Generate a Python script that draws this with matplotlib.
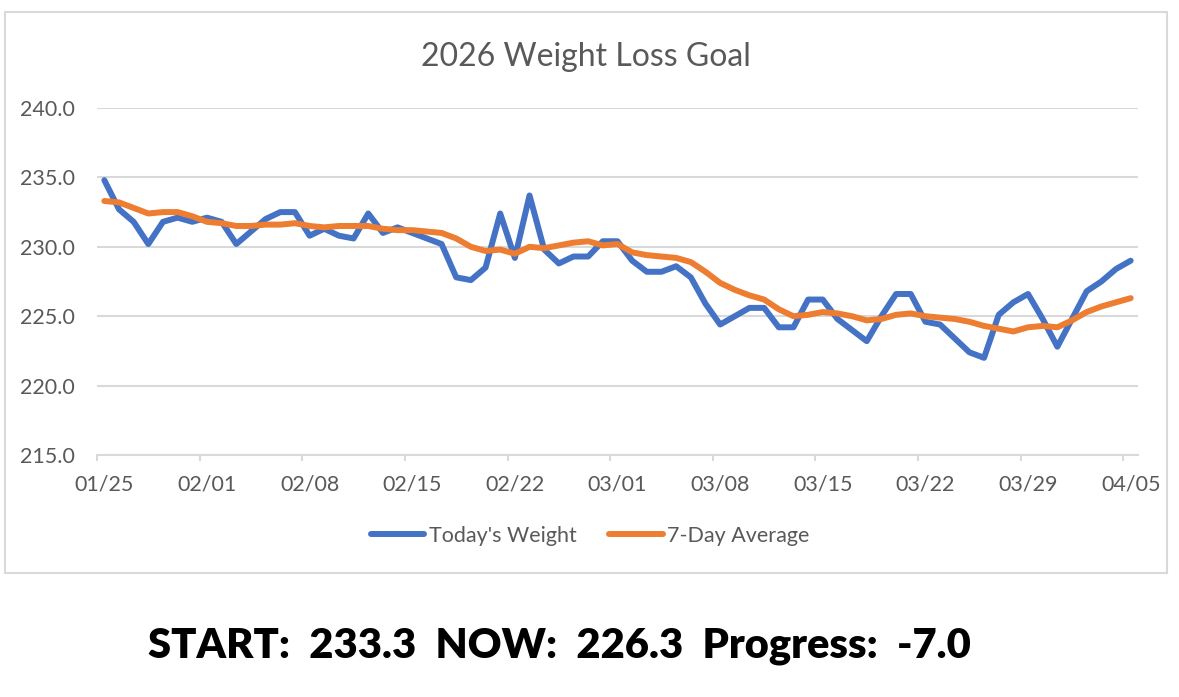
import numpy as np
import pandas as pd
import matplotlib
matplotlib.use("Agg")
import matplotlib.pyplot as plt
from matplotlib.patches import Rectangle
from matplotlib.ticker import FixedLocator, FuncFormatter

##------------------------------##
##            DATA              ##
##------------------------------##
dates = pd.date_range("2026-01-25", "2026-04-05", freq="D")
day_labels = [d.strftime("%m/%d") for d in dates]

todays_weight = [
    234.8, 232.7, 231.8, 230.2, 231.8, 232.1, 231.8, 232.1, 231.8, 230.2,
    231.1, 232.0, 232.5, 232.5, 230.8, 231.3, 230.8, 230.6, 232.4, 231.0,
    231.4, 231.0, 230.6, 230.2, 227.8, 227.6, 228.5, 232.4, 229.2, 233.7,
    229.8, 228.8, 229.3, 229.3, 230.4, 230.4, 229.0, 228.2, 228.2, 228.6,
    227.8, 225.9, 224.4, 225.0, 225.6, 225.6, 224.2, 224.2, 226.2, 226.2,
    224.8, 224.0, 223.2, 225.0, 226.6, 226.6, 224.6, 224.4, 223.4, 222.4,
    222.0, 225.1, 226.0, 226.6, 224.8, 222.8, 224.8, 226.8, 227.5, 228.4,
    229.0,
]
seven_day_avg = [
    233.3, 233.2, 232.8, 232.4, 232.5, 232.5, 232.2, 231.8, 231.7, 231.5,
    231.5, 231.6, 231.6, 231.7, 231.5, 231.4, 231.5, 231.5, 231.5, 231.3,
    231.2, 231.2, 231.1, 231.0, 230.6, 230.0, 229.7, 229.8, 229.5, 230.0,
    229.9, 230.1, 230.3, 230.4, 230.1, 230.2, 229.6, 229.4, 229.3, 229.2,
    228.9, 228.2, 227.4, 226.9, 226.5, 226.2, 225.5, 225.0, 225.1, 225.3,
    225.2, 225.0, 224.7, 224.8, 225.1, 225.2, 225.0, 224.9, 224.8, 224.6,
    224.3, 224.1, 223.9, 224.2, 224.3, 224.2, 224.7, 225.3, 225.7, 226.0,
    226.3,
]
y_ticks = [215.0, 220.0, 225.0, 230.0, 235.0, 240.0]
start_w = 233.3
now_w = 226.3

##------------------------------##
##            PLOT              ##
##------------------------------##
font = ["Lato", "DejaVu Sans"]
grey_txt = "#595959"
grid_c = "#d9d9d9"

W, H = 1179, 697
fig = plt.figure(figsize=(W / 100, H / 100), dpi=100)
ax = fig.add_axes([97 / W, 1 - 455 / H, (1138 - 97) / W, (455 - 108) / H])

x = np.arange(len(dates))
ax.plot(x, todays_weight, color="#4472C4", lw=4.3, solid_joinstyle="round",
        solid_capstyle="round", label="Today's Weight", zorder=3)
ax.plot(x, seven_day_avg, color="#ED7D31", lw=4.3, solid_joinstyle="round",
        solid_capstyle="round", label="7-Day Average", zorder=4)

ax.set_xlim(-0.5, len(dates) - 0.5)
ax.set_ylim(215, 240)
ax.set_yticks(y_ticks)
ax.yaxis.set_major_formatter(FuncFormatter(lambda v, p: f"{v:.1f}"))
ax.grid(axis="y", color=grid_c, lw=1.5, zorder=0)

major = list(range(0, len(dates), 7))
ax.xaxis.set_major_locator(FixedLocator(major))
ax.set_xticklabels([day_labels[i] for i in major])
ax.xaxis.set_minor_locator(FixedLocator([i - 0.5 for i in major]))
ax.tick_params(axis="x", which="major", length=0, pad=14, labelsize=15.5,
               labelcolor=grey_txt)
ax.tick_params(axis="x", which="minor", length=4.5, width=1.5, color=grid_c)
ax.tick_params(axis="y", length=0, pad=16, labelsize=15.5, labelcolor=grey_txt)
for lab in ax.get_xticklabels() + ax.get_yticklabels():
    lab.set_family(font)

for s in ["top", "right", "left"]:
    ax.spines[s].set_visible(False)
ax.spines["bottom"].set_color(grid_c)
ax.spines["bottom"].set_linewidth(1.5)

fig.text(586 / W, 1 - 57 / H, "2026 Weight Loss Goal", ha="center", va="center",
         fontsize=23, color=grey_txt, family=font)

leg = fig.legend(loc="center", bbox_to_anchor=(590 / W, 1 - 536 / H), ncol=2,
                 frameon=False, handlelength=2.5, handletextpad=0.2,
                 columnspacing=1.5, prop={"family": font, "size": 15.5})
for t in leg.get_texts():
    t.set_color(grey_txt)

# chart border
fig.patches.append(Rectangle((5 / W, 1 - 573 / H), (1167 - 5) / W, (573 - 12) / H,
                             transform=fig.transFigure, fill=False,
                             edgecolor=grid_c, lw=1.5))

fig.text(559 / W, 1 - 646 / H,
         f"START:  {start_w:.1f}  NOW:  {now_w:.1f}  Progress:  {now_w - start_w:.1f}",
         ha="center", va="center", fontsize=30, fontweight="heavy",
         family=font, color="black")

fig.savefig("out.png", dpi=100)
